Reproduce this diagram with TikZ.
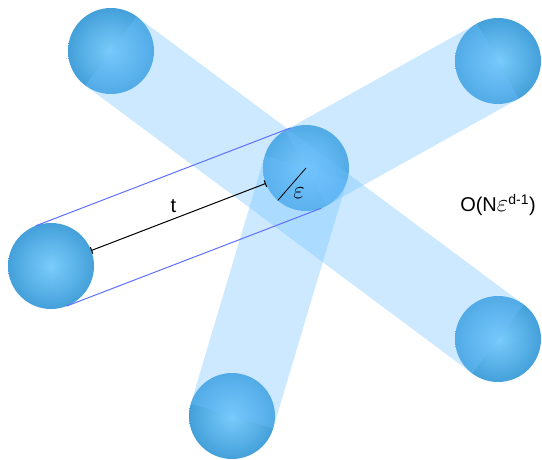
\documentclass[tikz,border=0pt]{standalone}
\usepackage{fontspec}
\setmainfont{Liberation Sans}
\usepackage{tikz}
\usetikzlibrary{arrows.meta,calc}
\definecolor{ballin}{RGB}{122,204,251}
\definecolor{ballout}{RGB}{68,160,218}
\definecolor{tube}{RGB}{110,192,255}
\definecolor{rimblue}{RGB}{95,112,255}
\tikzstyle{sphere} = [circle, minimum size=86pt, inner sep=0pt, outer sep=0pt, inner color=ballin, outer color=ballout]
\tikzstyle{band} = [draw=tube, line width=86pt, draw opacity=0.35]
\tikzstyle{rim} = [draw=rimblue, line width=1pt]
\tikzstyle{measure} = [{Bar[width=7pt]}-{Bar[width=7pt]}, line width=1pt]

\begin{document}
\begin{tikzpicture}[x=1pt, y=-1pt, font=\fontsize{20}{22}\selectfont]
\useasboundingbox (0,0) rectangle (542,460);
\node[sphere] (tl) at (111,51) {};
\node[sphere] (tr) at (498,61) {};
\node[sphere] (ct) at (306,168) {};
\node[sphere] (lf) at (51,266) {};
\node[sphere] (br) at (498,339) {};
\node[sphere] (bt) at (232,416) {};

% tubes swept by the spheres
\draw[band] (tl.center) -- (br.center);
\draw[band] (tr.center) -- (ct.center);
\draw[band] (bt.center) -- (ct.center);

% outline of the tube from the left sphere
\draw[rim] ($(lf.center)!43pt!90:(ct.center)$) -- ($(ct.center)!43pt!-90:(lf.center)$);
\draw[rim] ($(lf.center)!43pt!-90:(ct.center)$) -- ($(ct.center)!43pt!90:(lf.center)$);

\draw[measure] (lf) -- node[above=1pt, xshift=-5pt] {t} (ct);
\draw[line width=0.8pt] (ct.center) -- node[below right, inner sep=1pt, yshift=-2pt, font=\fontsize{24}{26}\selectfont] {$\varepsilon$} (ct.229);
\node (cost) at (498,205) {O(N{\fontsize{23}{24}\selectfont$\varepsilon$}\textsuperscript{d-1})};
\end{tikzpicture}
\end{document}
